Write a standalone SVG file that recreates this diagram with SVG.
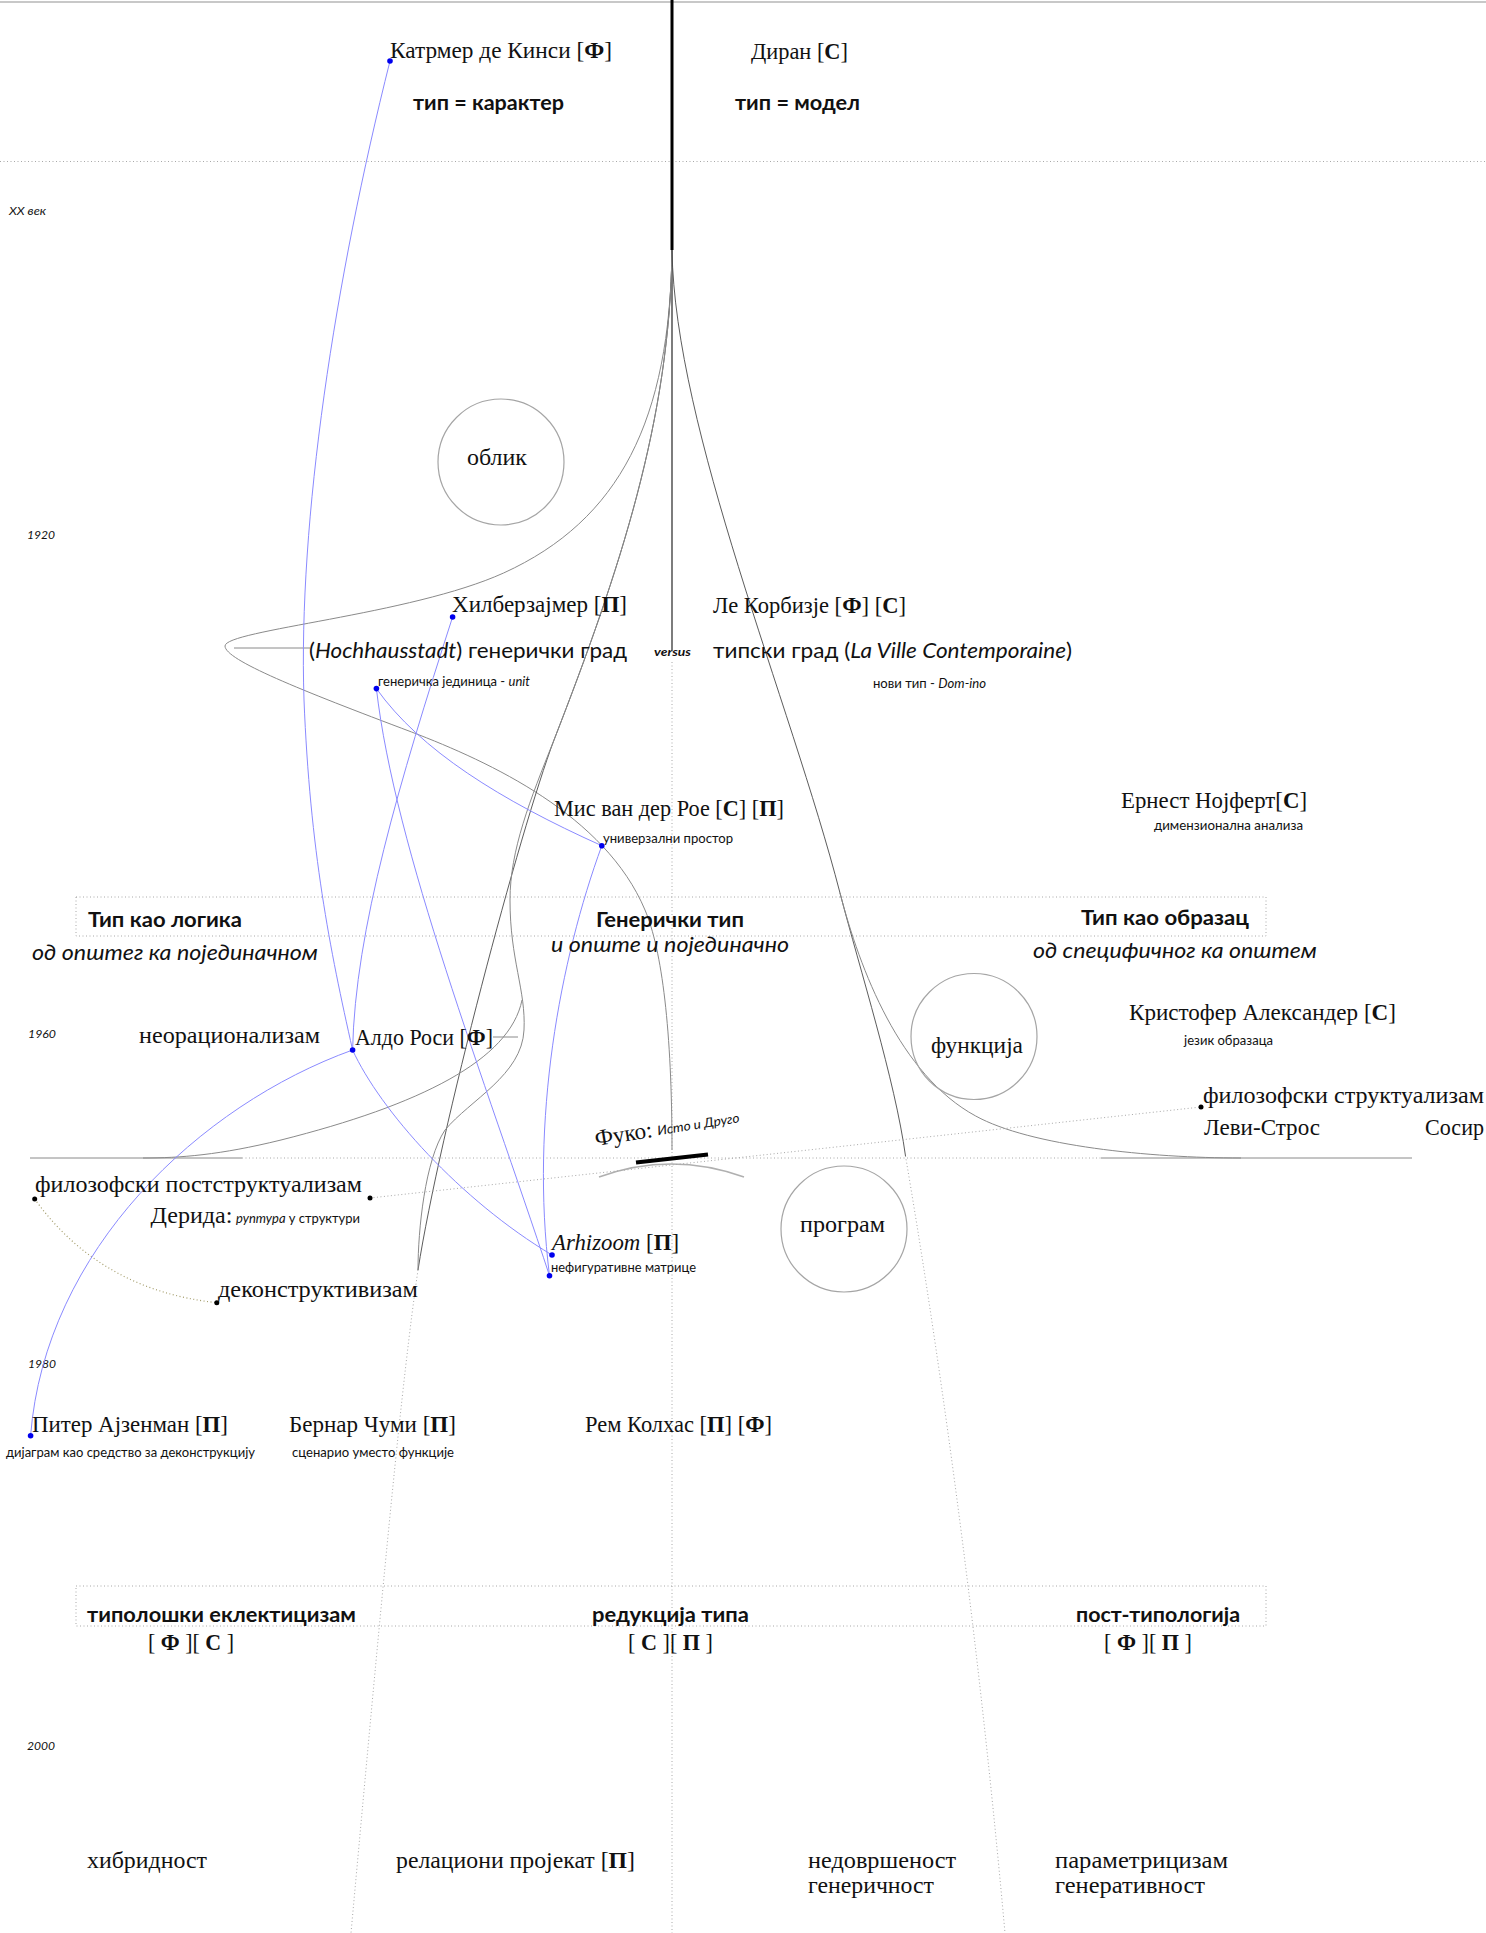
<svg xmlns="http://www.w3.org/2000/svg" width="1486" height="1933" viewBox="0 0 1486 1933">
<style>
text { fill:#111; }
.sf { font-family: 'Liberation Serif', 'DejaVu Serif', serif; font-size: 23px; }
.ss { font-family: Lato, 'Noto Sans', 'Liberation Sans', sans-serif; }
.hb { font-size: 20px; font-weight: bold; }
.it { font-style: italic; }
.sub { font-size: 21px; }
.sm { font-size: 12.5px; }
.yr { font-size: 12px; font-style: italic; }
.b { font-weight: bold; }
.g { fill:none; stroke:#8a8a8a; stroke-width:1; }
.k { fill:none; stroke:#4a4a4a; stroke-width:0.9; }
.bl { fill:none; stroke:#8a8aff; stroke-width:1; }
.dt { fill:none; stroke:#a8a8a8; stroke-width:1; stroke-dasharray:1 2.5; }
.circ { fill:none; stroke:#a5a5a5; stroke-width:1.2; }
.bd { fill:#0000ee; }
.kd { fill:#000; }
</style>
<rect x="0" y="0" width="1486" height="1933" fill="#fff"/>

<g id="grid">
  <path d="M0,2 H1486" stroke="#c8c8c8" stroke-width="2" fill="none"/>
  <path class="dt" d="M0,161.5 H1486"/>
  <rect class="dt" x="76" y="897" width="1190" height="39" stroke="#c4c4c4"/>
  <rect class="dt" x="76" y="1586" width="1190" height="40" stroke="#c4c4c4"/>
  <text class="ss yr" x="9" y="215" textLength="37" lengthAdjust="spacingAndGlyphs">XX век</text>
  <text class="ss yr" x="27" y="539" textLength="28" lengthAdjust="spacingAndGlyphs">1920</text>
  <text class="ss yr" x="28" y="1038" textLength="28" lengthAdjust="spacingAndGlyphs">1960</text>
  <text class="ss yr" x="28" y="1368" textLength="28" lengthAdjust="spacingAndGlyphs">1980</text>
  <text class="ss yr" x="27" y="1750" textLength="28" lengthAdjust="spacingAndGlyphs">2000</text>
</g>

<g id="connectors">
  <!-- central axis -->
  <path d="M672,0 V250" stroke="#000" stroke-width="3" fill="none"/>
  <path d="M672,250 V650" stroke="#111" stroke-width="1.1" fill="none"/>
  <path class="dt" d="M672,662 V1933"/>
  <!-- loop curve (Hilberseimer) -->
  <path class="g" d="M672,250 C670,420 620,520 503.6,573 C411,615 225,630 225,646 C225,660 300,690 411.6,732 C490,762 605,815 645,910 C662,950 672,1030 672,1150"/>
  <path class="g" d="M234,648 H310"/>
  <!-- left cone -->
  <path class="k" d="M672,250 C670,420 620,570 554,740 C520,830 440,1130 418,1270"/>
  <path class="dt" d="M418,1270 C402,1380 385,1560 351,1933"/>
  <!-- left S-curve -->
  <path class="g" d="M672,250 C670,420 620,570 554,740 C530,800 510,850 510,900 C510,960 526,990 524,1030 C522,1075 470,1100 445,1130 C425,1160 418,1230 418,1270"/>
  <!-- left trumpet to horizontal -->
  <path class="g" d="M522,1000 C510,1060 420,1105 281,1140 C220,1155 180,1158 143,1158"/>
  <path class="g" d="M30,1158 H242"/>
  <path class="g" d="M493,1037 H518"/>
  <!-- right cone -->
  <path class="k" d="M672,250 C675,430 790,700 840,893 C860,970 895,1080 905.5,1156"/>
  <path class="dt" d="M905.5,1156 C935,1330 975,1600 1005,1933"/>
  <!-- right trumpet -->
  <path class="g" d="M840,893 C860,970 900,1075 975.7,1116 C1030,1146 1150,1158 1241,1158"/>
  <path class="g" d="M1101,1158 H1412"/>
  <path class="dt" d="M242,1158 H1101"/>
  <!-- Foucault -->
  <path d="M599,1177 Q671,1151 744,1177" fill="none" stroke="#b0b0b0" stroke-width="1.5"/>
  <path d="M636,1162.5 L708,1154.5" stroke="#000" stroke-width="4" fill="none"/>
  <path class="dt" d="M370,1198 L1201,1107"/>
  <path d="M34.7,1199 Q100,1290 216.8,1302.7" fill="none" stroke="#a39c6a" stroke-width="1.2" stroke-dasharray="1 2.5"/>
  <!-- blue influence lines -->
  <path class="bl" d="M390,61 C335,280 298,520 304,700 C310,850 330,950 352.6,1050"/>
  <path class="bl" d="M452.6,617 C400,780 355,930 352.6,1050"/>
  <path class="bl" d="M376.4,688.6 C420,750 500,800 601.8,845.7"/>
  <path class="bl" d="M376.4,688.6 C395,850 485,1080 549.5,1275.7"/>
  <path class="bl" d="M601.8,845.7 C560,960 530,1120 549.5,1275.7"/>
  <path class="bl" d="M352.6,1050 C380,1110 460,1200 552,1255"/>
  <path class="bl" d="M352.6,1050 C200,1105 45,1250 30.6,1435.7"/>
</g>

<g id="n-quatremere">
  <circle class="bd" cx="390" cy="61" r="2.8"/>
  <text class="sf" x="390" y="58" textLength="222" lengthAdjust="spacingAndGlyphs">Катрмер де Кинси [<tspan class="b">Ф</tspan>]</text>
  <text class="ss hb" x="413" y="110" textLength="151" lengthAdjust="spacingAndGlyphs">тип = карактер</text>
</g>
<g id="n-durand">
  <text class="sf" x="751" y="59" textLength="97" lengthAdjust="spacingAndGlyphs">Диран [<tspan class="b">С</tspan>]</text>
  <text class="ss hb" x="735" y="110" textLength="125" lengthAdjust="spacingAndGlyphs">тип = модел</text>
</g>
<g id="n-oblik">
  <circle class="circ" cx="501" cy="462" r="63"/>
  <text class="sf" x="467" y="465" textLength="60" lengthAdjust="spacingAndGlyphs">облик</text>
</g>
<g id="n-hilberseimer">
  <circle class="bd" cx="452.6" cy="617" r="2.8"/>
  <text class="sf" x="452" y="612" textLength="175" lengthAdjust="spacingAndGlyphs">Хилберзајмер [<tspan class="b">П</tspan>]</text>
  <text class="ss sub" x="309" y="658" textLength="318" lengthAdjust="spacingAndGlyphs">(<tspan class="it">Hochhausstadt</tspan>) генерички град</text>
  <circle class="bd" cx="376.4" cy="688.6" r="2.8"/>
  <text class="ss sm" x="378" y="686" textLength="152" lengthAdjust="spacingAndGlyphs">генеричка јединица - <tspan class="it">unit</tspan></text>
</g>
<g id="n-versus">
  <text class="ss it b" font-size="12" x="654" y="656" textLength="37" lengthAdjust="spacingAndGlyphs">versus</text>
</g>
<g id="n-corbusier">
  <text class="sf" x="713" y="613" textLength="193" lengthAdjust="spacingAndGlyphs">Ле Корбизје [<tspan class="b">Ф</tspan>] [<tspan class="b">С</tspan>]</text>
  <text class="ss sub" x="713" y="658" textLength="359" lengthAdjust="spacingAndGlyphs">типски град (<tspan class="it">La Ville Contemporaine</tspan>)</text>
  <text class="ss sm" x="873" y="688" textLength="113" lengthAdjust="spacingAndGlyphs">нови тип - <tspan class="it">Dom-ino</tspan></text>
</g>
<g id="n-mies">
  <text class="sf" x="554" y="816" textLength="230" lengthAdjust="spacingAndGlyphs">Мис ван дер Рое [<tspan class="b">С</tspan>] [<tspan class="b">П</tspan>]</text>
  <circle class="bd" cx="601.8" cy="845.7" r="2.8"/>
  <text class="ss sm" x="603" y="843" textLength="130" lengthAdjust="spacingAndGlyphs">универзални простор</text>
</g>
<g id="n-neufert">
  <text class="sf" x="1121" y="808" textLength="186" lengthAdjust="spacingAndGlyphs">Ернест Нојферт[<tspan class="b">С</tspan>]</text>
  <text class="ss sm" x="1154" y="830" textLength="149" lengthAdjust="spacingAndGlyphs">димензионална анализа</text>
</g>
<g id="n-logic">
  <text class="ss hb" x="88" y="927" textLength="154" lengthAdjust="spacingAndGlyphs">Тип као логика</text>
  <text class="ss sub it" x="32" y="960" textLength="286" lengthAdjust="spacingAndGlyphs">од општег ка појединачном</text>
</g>
<g id="n-generic">
  <text class="ss hb" x="596" y="927" textLength="148" lengthAdjust="spacingAndGlyphs">Генерички тип</text>
  <text class="ss sub it" x="551" y="952" textLength="238" lengthAdjust="spacingAndGlyphs">и опште и појединачно</text>
</g>
<g id="n-pattern">
  <text class="ss hb" x="1081" y="925" textLength="168" lengthAdjust="spacingAndGlyphs">Тип као образац</text>
  <text class="ss sub it" x="1033" y="958" textLength="284" lengthAdjust="spacingAndGlyphs">од специфичног ка општем</text>
</g>
<g id="n-rossi">
  <text class="sf" x="139" y="1043" textLength="181" lengthAdjust="spacingAndGlyphs">неорационализам</text>
  <circle class="bd" cx="352.6" cy="1050" r="2.8"/>
  <text class="sf" x="355" y="1045" textLength="138" lengthAdjust="spacingAndGlyphs">Алдо Роси [<tspan class="b">Ф</tspan>]</text>
</g>
<g id="n-funkcija">
  <circle class="circ" cx="974" cy="1036.5" r="63"/>
  <text class="sf" x="931" y="1053" textLength="92" lengthAdjust="spacingAndGlyphs">функција</text>
</g>
<g id="n-alexander">
  <text class="sf" x="1129" y="1020" textLength="267" lengthAdjust="spacingAndGlyphs">Кристофер Александер [<tspan class="b">С</tspan>]</text>
  <text class="ss sm" x="1184" y="1045" textLength="89" lengthAdjust="spacingAndGlyphs">језик образаца</text>
</g>
<g id="n-structuralism">
  <circle class="kd" cx="1201" cy="1107" r="2.5"/>
  <text class="sf" x="1203" y="1103" textLength="281" lengthAdjust="spacingAndGlyphs">филозофски структуализам</text>
  <text class="sf" x="1204" y="1135" textLength="116" lengthAdjust="spacingAndGlyphs">Леви-Строс</text>
  <text class="sf" x="1425" y="1135" textLength="59" lengthAdjust="spacingAndGlyphs">Сосир</text>
</g>
<g id="n-foucault" transform="rotate(-9 596 1146)">
  <text class="sf" font-size="23" x="596" y="1146" textLength="58" lengthAdjust="spacingAndGlyphs">Фуко:</text>
  <text class="ss it" font-size="13" x="659" y="1145" textLength="83" lengthAdjust="spacingAndGlyphs">Исто и Друго</text>
</g>
<g id="n-poststructuralism">
  <circle class="kd" cx="34.7" cy="1199" r="2.5"/>
  <circle class="kd" cx="370" cy="1198" r="2.5"/>
  <text class="sf" x="35" y="1192" textLength="327" lengthAdjust="spacingAndGlyphs">филозофски постструктуализам</text>
  <text class="sf" x="150.5" y="1223" textLength="82" lengthAdjust="spacingAndGlyphs">Дерида:</text>
  <text class="ss" font-size="13" x="236" y="1223" textLength="124" lengthAdjust="spacingAndGlyphs"><tspan class="it">руптура</tspan> у структури</text>
</g>
<g id="n-deconstructivism">
  <circle class="kd" cx="216.8" cy="1302.7" r="2.5"/>
  <text class="sf" x="218" y="1297" textLength="200" lengthAdjust="spacingAndGlyphs">деконструктивизам</text>
</g>
<g id="n-archizoom">
  <circle class="bd" cx="552" cy="1255" r="2.8"/>
  <text class="sf" x="552" y="1250" textLength="127" lengthAdjust="spacingAndGlyphs"><tspan class="it">Arhizoom</tspan> [<tspan class="b">П</tspan>]</text>
  <circle class="bd" cx="549.5" cy="1275.7" r="2.8"/>
  <text class="ss sm" x="551" y="1272" textLength="145" lengthAdjust="spacingAndGlyphs">нефигуративне матрице</text>
</g>
<g id="n-program">
  <circle class="circ" cx="844" cy="1229" r="63"/>
  <text class="sf" x="800" y="1232" textLength="85" lengthAdjust="spacingAndGlyphs">програм</text>
</g>
<g id="n-eisenman">
  <circle class="bd" cx="30.6" cy="1435.7" r="2.8"/>
  <text class="sf" x="32" y="1432" textLength="196" lengthAdjust="spacingAndGlyphs">Питер Ајзенман [<tspan class="b">П</tspan>]</text>
  <text class="ss sm" x="6" y="1457" textLength="249" lengthAdjust="spacingAndGlyphs">дијаграм као средство за деконструкцију</text>
</g>
<g id="n-tschumi">
  <text class="sf" x="289" y="1432" textLength="167" lengthAdjust="spacingAndGlyphs">Бернар Чуми [<tspan class="b">П</tspan>]</text>
  <text class="ss sm" x="292" y="1457" textLength="162" lengthAdjust="spacingAndGlyphs">сценарио уместо функције</text>
</g>
<g id="n-koolhaas">
  <text class="sf" x="585" y="1432" textLength="187" lengthAdjust="spacingAndGlyphs">Рем Колхас [<tspan class="b">П</tspan>] [<tspan class="b">Ф</tspan>]</text>
</g>
<g id="n-eclecticism">
  <text class="ss hb" x="87" y="1622" textLength="269" lengthAdjust="spacingAndGlyphs">типолошки еклектицизам</text>
  <text class="sf" x="148" y="1650" textLength="86" lengthAdjust="spacingAndGlyphs">[ <tspan class="b">Ф</tspan> ][ <tspan class="b">С</tspan> ]</text>
</g>
<g id="n-reduction">
  <text class="ss hb" x="592" y="1622" textLength="157" lengthAdjust="spacingAndGlyphs">редукција типа</text>
  <text class="sf" x="628" y="1650" textLength="85" lengthAdjust="spacingAndGlyphs">[ <tspan class="b">С</tspan> ][ <tspan class="b">П</tspan> ]</text>
</g>
<g id="n-posttypology">
  <text class="ss hb" x="1076" y="1622" textLength="164" lengthAdjust="spacingAndGlyphs">пост-типологија</text>
  <text class="sf" x="1104" y="1650" textLength="88" lengthAdjust="spacingAndGlyphs">[ <tspan class="b">Ф</tspan> ][ <tspan class="b">П</tspan> ]</text>
</g>
<g id="n-hybridity">
  <text class="sf" x="87" y="1868" textLength="120" lengthAdjust="spacingAndGlyphs">хибридност</text>
</g>
<g id="n-relational">
  <text class="sf" x="396" y="1868" textLength="239" lengthAdjust="spacingAndGlyphs">релациони пројекат [<tspan class="b">П</tspan>]</text>
</g>
<g id="n-unfinished">
  <text class="sf" x="808" y="1868" textLength="148" lengthAdjust="spacingAndGlyphs">недовршеност</text>
  <text class="sf" x="808" y="1893" textLength="126" lengthAdjust="spacingAndGlyphs">генеричност</text>
</g>
<g id="n-parametricism">
  <text class="sf" x="1055" y="1868" textLength="173" lengthAdjust="spacingAndGlyphs">параметрицизам</text>
  <text class="sf" x="1055" y="1893" textLength="150" lengthAdjust="spacingAndGlyphs">генеративност</text>
</g>
</svg>
